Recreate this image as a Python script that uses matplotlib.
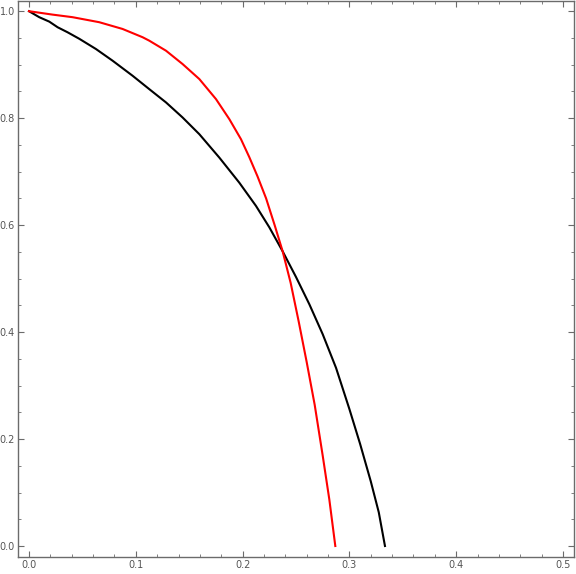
import matplotlib
matplotlib.use("Agg")
import matplotlib.pyplot as plt
from matplotlib.ticker import MultipleLocator, FormatStrFormatter

# Black curve
black_x = [0.0, 0.0096, 0.0190, 0.0268, 0.0361, 0.0471, 0.0627, 0.0783, 0.0970,
           0.1126, 0.1283, 0.1438, 0.1595, 0.1782, 0.1969, 0.2125, 0.2250,
           0.2375, 0.2500, 0.2625, 0.2750, 0.2875, 0.3000, 0.3100, 0.3200,
           0.3275, 0.3333]
black_y = [1.0, 0.9888, 0.9805, 0.9700, 0.9606, 0.9484, 0.9293, 0.9074, 0.8793,
           0.8543, 0.8294, 0.8013, 0.7700, 0.7263, 0.6794, 0.6360, 0.5960,
           0.5510, 0.5030, 0.4520, 0.3960, 0.3330, 0.2560, 0.1910, 0.1210,
           0.0630, 0.0]

# Red curve
red_x = [0.0, 0.0221, 0.0408, 0.0658, 0.0876, 0.1064, 0.1126, 0.1283, 0.1438,
         0.1595, 0.1751, 0.1876, 0.1985, 0.2063, 0.2140, 0.2220, 0.2300,
         0.2375, 0.2450, 0.2525, 0.2600, 0.2675, 0.2750, 0.2812, 0.2868]
red_y = [1.0, 0.9936, 0.9888, 0.9794, 0.9668, 0.9513, 0.9449, 0.9261, 0.9012,
         0.8731, 0.8356, 0.7981, 0.7606, 0.7270, 0.6910, 0.6500, 0.6000,
         0.5510, 0.4920, 0.4200, 0.3440, 0.2640, 0.1690, 0.0870, 0.0]

x_range = (-0.01, 0.51)
y_range = (-0.02, 1.02)

fig = plt.figure(figsize=(5.76, 5.74), dpi=100)
ax = fig.add_axes([18.3 / 576, 17.3 / 574, (573.7 - 18.3) / 576, (574 - 17.3 - 0.5) / 574])

ax.plot(black_x, black_y, color="black", lw=1.5, solid_joinstyle="round")
ax.plot(red_x, red_y, color="#ff0000", lw=1.5, solid_joinstyle="round")

ax.set_xlim(*x_range)
ax.set_ylim(*y_range)

ax.xaxis.set_major_locator(MultipleLocator(0.1))
ax.xaxis.set_minor_locator(MultipleLocator(0.02))
ax.yaxis.set_major_locator(MultipleLocator(0.2))
ax.yaxis.set_minor_locator(MultipleLocator(0.05))
ax.xaxis.set_major_formatter(FormatStrFormatter("%.1f"))
ax.yaxis.set_major_formatter(FormatStrFormatter("%.1f"))

spine_col = "#6b6b6b"
for s in ax.spines.values():
    s.set_color(spine_col)
    s.set_linewidth(1.0)

ax.tick_params(which="both", direction="in", top=True, right=True,
               color=spine_col, labelcolor="#555555", labelsize=7)
ax.tick_params(which="major", length=4, width=0.8, pad=2.5)
ax.tick_params(which="minor", length=2.3, width=0.6)

fig.savefig("out.png", dpi=100)
